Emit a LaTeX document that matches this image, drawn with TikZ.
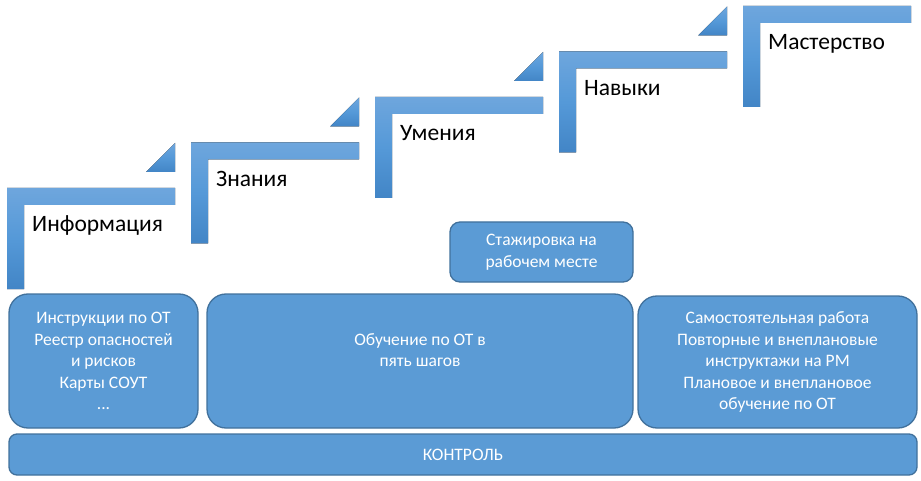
\documentclass[tikz,border=0pt]{standalone}
\usepackage{fontspec}
\setmainfont{Carlito}
\definecolor{boxblue}{HTML}{5B9BD5}
\definecolor{boxedge}{HTML}{41719C}
\definecolor{steplight}{HTML}{6EA6DD}
\definecolor{stepmid}{HTML}{5599D8}
\definecolor{stepdark}{HTML}{4285C6}
\begin{document}
\begin{tikzpicture}[x=1pt,y=-1pt,
	box/.style={draw=boxedge,fill=boxblue,line width=1.3pt,rounded corners=19pt,
		text=white,align=center,font=\fontsize{17.5}{21.5}\selectfont,inner sep=0pt},
	stepshape/.style={top color=steplight,bottom color=stepdark,middle color=stepmid,draw=none},
	steplabel/.style={anchor=base west,inner sep=0pt,font=\fontsize{23.5}{28}\selectfont}]
	\useasboundingbox (0,0) rectangle (921,481);
	
	\foreach \i/\name in {0/step0,1/step1,2/step2,3/step3,4/step4} {
		\pgfmathsetmacro{\xa}{7+184*\i}
		\pgfmathsetmacro{\ya}{188-45.5*\i}
		\fill[stepshape] (\xa,\ya) -- ++(168,0) -- ++(0,17) -- ++(-151,0)
			-- ++(0,84) -- ++(-17,0) -- cycle;
		\coordinate (\name) at (\xa,\ya);
	}
	\foreach \i in {0,1,2,3} {
		\pgfmathsetmacro{\xa}{7+184*\i}
		\pgfmathsetmacro{\ya}{188-45.5*\i}
		\fill[stepshape] (\xa+139,\ya-16) -- ++(29,0) -- ++(0,-29) -- cycle;
	}
	
	\node[steplabel] (info) at ([shift={(25,44)}]step0) {Информация};
	\node[steplabel] (know) at ([shift={(25,44)}]step1) {Знания};
	\node[steplabel] (skill) at ([shift={(25,44)}]step2) {Умения};
	\node[steplabel] (habit) at ([shift={(25,44)}]step3) {Навыки};
	\node[steplabel] (master) at ([shift={(25,44)}]step4) {Мастерство};
	
	\node[box,rounded corners=10pt,minimum width=183pt,minimum height=60pt] (intern) at (541.5,252)
		{Стажировка на\\рабочем месте};
	\node[box,minimum width=189pt,minimum height=134pt] (docs) at (103.5,361)
		{Инструкции по ОТ\\Реестр опасностей\\и рисков\\Карты СОУТ\\...};
	\node[box,minimum width=426pt,minimum height=134pt] (train) at (420,361)
		{Обучение по ОТ в\\пять шагов\\\mbox{}};
	\node[box,minimum width=279pt,minimum height=132pt] (work) at (777.5,362)
		{Самостоятельная работа\\Повторные и внеплановые\\инструктажи на РМ\\Плановое и внеплановое\\обучение по ОТ};
	\node[box,rounded corners=8pt,minimum width=908pt,minimum height=41pt] (control) at (463,454.5)
		{КОНТРОЛЬ};
\end{tikzpicture}
\end{document}
